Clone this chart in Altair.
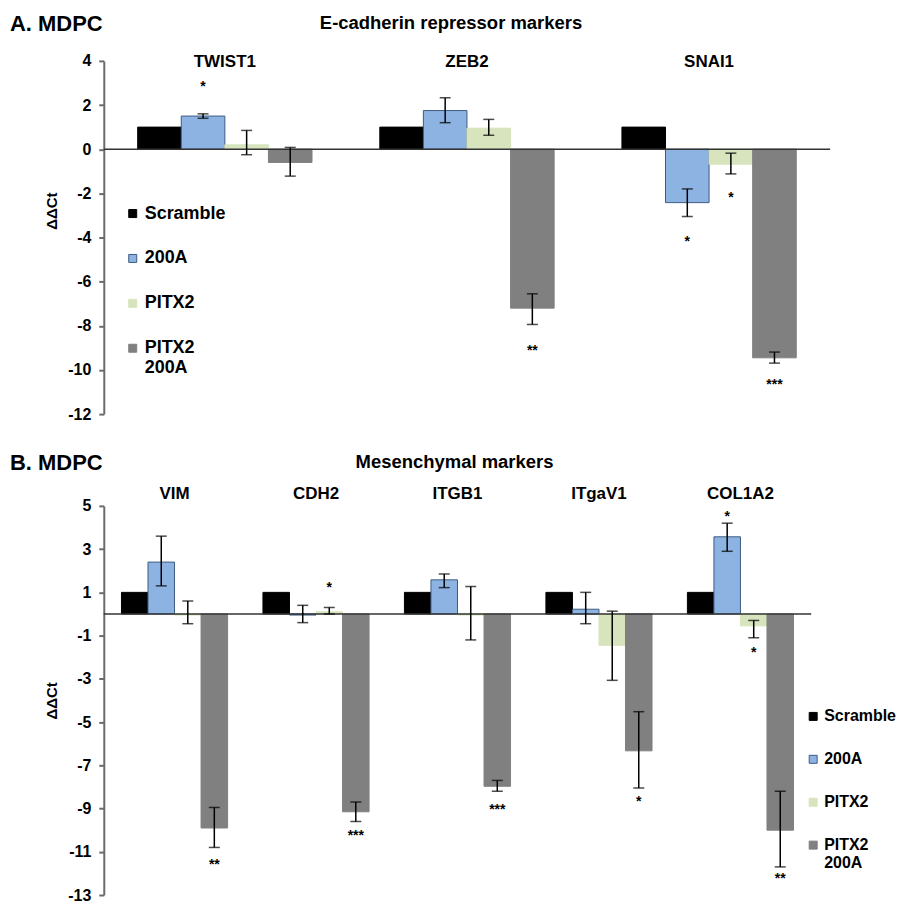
import altair as alt
import pandas as pd

# ---------------- data ----------------
groups = ["Scramble", "200A", "PITX2", "PITX2 200A"]
fill_colors = ["#000000", "#8db3e2", "#d7e4bd", "#808080"]
stroke_colors = ["#000000", "#3d5b83", "#d7e4bd", "#808080"]

# Panel A: E-cadherin repressor markers
genes_a = ["TWIST1", "ZEB2", "SNAI1"]
a_scramble = [1.0, 1.0, 1.0]
a_200a = [1.5, 1.75, -2.42]
a_pitx2 = [0.2, 0.95, -0.68]
a_pitx2_200a = [-0.6, -7.2, -9.45]
a_lo = {"200A": [1.4, 1.2, -3.05], "PITX2": [-0.25, 0.63, -1.12], "PITX2 200A": [-1.22, -7.94, -9.69]}
a_hi = {"200A": [1.6, 2.33, -1.8], "PITX2": [0.85, 1.35, -0.18], "PITX2 200A": [0.08, -6.55, -9.19]}
a_star_gene = ["TWIST1", "ZEB2", "SNAI1", "SNAI1", "SNAI1"]
a_star_group = ["200A", "PITX2 200A", "200A", "PITX2", "PITX2 200A"]
a_star_text = ["*", "**", "*", "*", "***"]
a_star_y = [3.0, -8.97, -4.04, -2.02, -10.49]

# Panel B: Mesenchymal markers
genes_b = ["VIM", "CDH2", "ITGB1", "ITgaV1", "COL1A2"]
b_scramble = [1.0, 1.0, 1.0, 1.0, 1.0]
b_200a = [2.4, -0.05, 1.58, 0.22, 3.57]
b_pitx2 = [-0.05, 0.1, -0.05, -1.45, -0.55]
b_pitx2_200a = [-9.9, -9.15, -7.97, -6.33, -10.0]
b_lo = {"200A": [1.3, -0.4, 1.22, -0.45, 2.9], "PITX2": [-0.45, 0.0, -1.2, -3.07, -1.1],
        "PITX2 200A": [-10.8, -9.6, -8.2, -8.05, -11.7]}
b_hi = {"200A": [3.6, 0.4, 1.85, 1.0, 4.2], "PITX2": [0.6, 0.3, 1.27, 0.13, -0.3],
        "PITX2 200A": [-8.95, -8.7, -7.7, -4.52, -8.2]}
b_star_gene = ["CDH2", "VIM", "CDH2", "ITGB1", "ITgaV1", "COL1A2", "COL1A2", "COL1A2"]
b_star_group = ["PITX2", "PITX2 200A", "PITX2 200A", "PITX2 200A", "PITX2 200A", "200A", "PITX2", "PITX2 200A"]
b_star_text = ["*", "**", "***", "***", "*", "*", "*", "**"]
b_star_y = [1.4, -11.45, -10.1, -8.9, -8.5, 4.66, -1.63, -12.08]

FONT = "Liberation Sans"


def build_frames(genes, vals, lo, hi):
    rows, err = [], []
    for gi, g in enumerate(genes):
        for grp, arr in zip(groups, vals):
            rows.append({"gene": g, "group": grp, "value": arr[gi]})
            if grp in lo:
                err.append({"gene": g, "group": grp, "lo": lo[grp][gi], "hi": hi[grp][gi]})
    return pd.DataFrame(rows), pd.DataFrame(err)


def panel(genes, vals, lo, hi, sgene, sgroup, stext, sy, domain, ticks, w, h,
          pad_in, label, title, title_dx, title_dy, gene_dy, leg_x, leg_y, ytitle_y,
          leg_font, leg_pad):
    df, dfe = build_frames(genes, vals, lo, hi)
    dfs = pd.DataFrame({"gene": sgene, "group": sgroup, "star": stext, "sy": sy})

    xenc = alt.X("gene:N", sort=genes, axis=None,
                 scale=alt.Scale(paddingInner=pad_in, paddingOuter=pad_in / 2))
    xo = alt.XOffset("group:N", sort=groups, scale=alt.Scale(paddingInner=0, paddingOuter=0))
    yscale = alt.Scale(domain=domain, nice=False, zero=False)
    yaxis = alt.Axis(values=ticks, grid=False, domainColor="#6b6b6b", domainWidth=2,
                     tickColor="#6b6b6b", tickWidth=2, tickSize=5, labelFontSize=16,
                     labelFontWeight="bold", labelColor="black", labelPadding=8,
                     labelExpr="'' + datum.value",
                     title="ΔΔCt", titleFontSize=15, titleFontWeight="bold",
                     titleColor="black", titleX=-52, titleY=ytitle_y, titleBaseline="middle")

    leg = alt.Legend(orient="none", legendX=leg_x, legendY=leg_y, title=None,
                     symbolType="square", symbolSize=64, symbolStrokeWidth=1,
                     labelFontSize=leg_font, labelFontWeight="bold", labelColor="black",
                     labelFont=FONT, rowPadding=leg_pad, labelOffset=3,
                     labelExpr="datum.label == 'PITX2 200A' ? ['PITX2', '200A'] : datum.label")

    bars = alt.Chart(df).mark_bar(strokeWidth=1).encode(
        x=xenc, xOffset=xo,
        y=alt.Y("value:Q", scale=yscale, axis=yaxis),
        color=alt.Color("group:N", sort=groups, scale=alt.Scale(domain=groups, range=fill_colors), legend=leg),
        stroke=alt.Stroke("group:N", sort=groups, scale=alt.Scale(domain=groups, range=stroke_colors), legend=leg),
    )
    zero = alt.Chart(pd.DataFrame({"z": [0]})).mark_rule(color="#333333", strokeWidth=1.5).encode(
        y=alt.Y("z:Q", scale=yscale, axis=yaxis))
    whisk = alt.Chart(dfe).mark_rule(color="black", strokeWidth=1.5).encode(
        x=xenc, xOffset=xo, y=alt.Y("lo:Q", scale=yscale, axis=yaxis), y2="hi:Q")
    cap_lo = alt.Chart(dfe).mark_tick(color="black", thickness=1.5, size=11, orient="horizontal").encode(
        x=xenc, xOffset=xo, y=alt.Y("lo:Q", scale=yscale, axis=yaxis))
    cap_hi = alt.Chart(dfe).mark_tick(color="black", thickness=1.5, size=11, orient="horizontal").encode(
        x=xenc, xOffset=xo, y=alt.Y("hi:Q", scale=yscale, axis=yaxis))
    stars = alt.Chart(dfs).mark_text(fontSize=14, fontWeight="bold", baseline="middle", dy=4,
                                     color="black", font=FONT).encode(
        x=xenc, xOffset=xo, y=alt.Y("sy:Q", scale=yscale, axis=yaxis), text="star:N")
    gene_lbl = alt.Chart(pd.DataFrame({"gene": genes})).mark_text(
        fontSize=17, fontWeight="bold", baseline="middle", color="black", font=FONT).encode(
        x=xenc, y=alt.value(gene_dy), text="gene:N")
    lab = alt.Chart(pd.DataFrame({"t": [label]})).mark_text(
        fontSize=22, fontWeight="bold", align="left", baseline="middle", color="black", font=FONT).encode(
        x=alt.value(-94), y=alt.value(title_dy + 1), text="t:N")
    ttl = alt.Chart(pd.DataFrame({"t": [title]})).mark_text(
        fontSize=18.5, fontWeight="bold", align="center", baseline="middle", color="black", font=FONT).encode(
        x=alt.value(w / 2 + title_dx), y=alt.value(title_dy), text="t:N")

    return alt.layer(bars, zero, whisk, cap_lo, cap_hi, stars, gene_lbl, lab, ttl).properties(
        width=w, height=h)


chart_a = panel(genes_a, [a_scramble, a_200a, a_pitx2, a_pitx2_200a], a_lo, a_hi,
                a_star_gene, a_star_group, a_star_text, a_star_y,
                [-12, 4], list(range(4, -13, -2)), 728, 354, 0.28,
                "A. MDPC", "E-cadherin repressor markers", -16, -38, 1, 20, 144, 150, 18, 27)
chart_b = panel(genes_b, [b_scramble, b_200a, b_pitx2, b_pitx2_200a], b_lo, b_hi,
                b_star_gene, b_star_group, b_star_text, b_star_y,
                [-13, 5], list(range(5, -14, -2)), 709, 390, 0.25,
                "B. MDPC", "Mesenchymal markers", -3, -44, -12, 703, 203, 195, 16, 27)

chart = alt.vconcat(chart_a, chart_b, spacing=30).resolve_scale(
    xOffset="independent", color="independent", stroke="independent"
).resolve_legend(color="independent", stroke="independent").properties(
    padding={"left": 2, "top": 4, "right": 0, "bottom": 0}
).configure(font=FONT).configure_view(stroke="transparent", strokeWidth=0)

chart.save("out.html", embed_options={"renderer": "svg", "actions": False})
